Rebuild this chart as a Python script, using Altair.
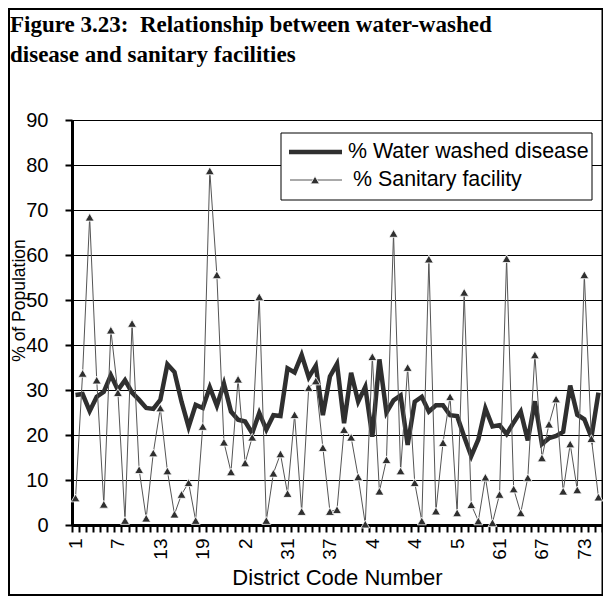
import altair as alt
import pandas as pd

# ---- data ----
district = list(range(1, 76))
water = [28.9, 29.1, 25.3, 28.5, 29.6, 33.3, 30.0, 32.2, 29.4, 27.8,
         26.0, 25.8, 27.8, 35.7, 34.0, 27.4, 21.8, 26.7, 26.0, 30.6,
         26.5, 31.4, 25.2, 23.4, 23.0, 20.4, 24.9, 21.2, 24.4, 24.2,
         34.8, 33.9, 37.8, 32.8, 35.4, 24.4, 33.0, 35.8, 22.6, 33.8,
         27.4, 30.7, 19.6, 36.8, 25.0, 27.7, 28.8, 17.8, 27.4, 28.5,
         25.2, 26.6, 26.6, 24.4, 24.2, 19.6, 15.3, 19.0, 25.9, 21.9,
         22.2, 20.2, 22.8, 25.2, 18.8, 27.5, 18.0, 19.3, 19.8, 20.7,
         31.0, 24.5, 23.5, 19.5, 29.4]
sanitary = [6.0, 33.7, 68.4, 32.2, 4.6, 43.3, 29.4, 1.0, 44.8, 12.3,
            1.5, 16.0, 26.0, 12.0, 2.4, 6.8, 9.4, 1.0, 21.9, 78.7,
            55.6, 18.4, 11.8, 32.4, 13.8, 19.5, 50.7, 1.0, 11.5, 15.8,
            7.0, 24.5, 3.0, 30.5, 32.0, 17.2, 3.0, 3.4, 21.2, 19.5,
            10.7, 0.2, 37.4, 7.5, 14.5, 64.8, 12.0, 35.0, 9.4, 0.9,
            59.1, 3.1, 18.3, 28.5, 2.7, 51.7, 4.5, 0.9, 10.6, 0.5,
            6.8, 59.2, 8.0, 2.7, 10.5, 37.8, 14.9, 22.4, 28.0, 7.5,
            18.0, 7.8, 55.6, 19.2, 6.2]
tick_pos = [1, 7, 13, 19, 25, 31, 37, 43, 49, 55, 61, 67, 73]
tick_text = ["1", "7", "13", "19", "2", "31", "37", "4", "4", "5", "61", "67", "73"]
series_names = ["% Water washed disease", "% Sanitary facility"]
title_lines = ["Figure 3.23:\u00a0 Relationship between water-washed",
               "disease and sanitary facilities"]
y_title = "% of Population"
x_title = "District Code Number"

df = pd.DataFrame({"district": district, "water": water, "sanitary": sanitary})

W, H = 530, 405
DARK = "#2f2f2f"

label_expr = "''"
for p, t in reversed(list(zip(tick_pos, tick_text))):
    label_expr = f"datum.value == {p} ? '{t}' : ({label_expr})"

boundaries = [k + 0.5 for k in range(0, 76)]
x_scale = alt.Scale(domain=[0.5, 75.5], nice=False, zero=False)

# axis that only carries the category tick marks (between categories)
x_tick_axis = alt.Axis(values=boundaries, labels=False, tickSize=7, tickWidth=2,
                       domainWidth=3, grid=False, title=None, orient="bottom")
# axis that only carries the labels and the title
x_label_axis = alt.Axis(values=tick_pos, labelExpr=label_expr, labelAngle=270,
                        labelAlign="right", labelBaseline="middle", labelFontSize=19,
                        labelPadding=13, labelOverlap=False, labelBound=False,
                        labelFlush=False, ticks=False, domain=False, grid=False,
                        title=x_title, titleFontSize=22, titleY=52,
                        titleBaseline="middle", orient="bottom")

y_axis = alt.Axis(values=list(range(0, 91, 10)), domainWidth=3, tickSize=7, tickWidth=2,
                  labelFontSize=20, labelPadding=17, grid=True, gridColor="#000",
                  gridWidth=1, title=y_title, titleFontSize=17.5, titleAngle=270,
                  titleX=-48, titleY=180, titleBaseline="alphabetic", titleAlign="center")
y_scale = alt.Scale(domain=[0, 90], nice=False)

base = alt.Chart(df)

water_line = base.mark_line(color=DARK, strokeWidth=4.5).encode(
    x=alt.X("district:Q", scale=x_scale, axis=x_tick_axis),
    y=alt.Y("water:Q", scale=y_scale, axis=y_axis))
san_line = base.mark_line(color="#555", strokeWidth=1).encode(
    x=alt.X("district:Q", scale=x_scale, axis=x_label_axis),
    y=alt.Y("sanitary:Q", scale=y_scale, axis=y_axis))
san_pts = base.mark_point(shape="triangle-up", filled=True, size=80, fill=DARK,
                          stroke="white", strokeWidth=0.8, opacity=1).encode(
    x=alt.X("district:Q", scale=x_scale, axis=None),
    y=alt.Y("sanitary:Q", scale=y_scale, axis=y_axis))

one = pd.DataFrame({"k": [0]})
frame = alt.Chart(one).mark_rect(filled=False, stroke="#000", strokeWidth=2).encode(
    x=alt.value(-63), x2=alt.value(530.5), y=alt.value(-111), y2=alt.value(475))

leg_box = alt.Chart(one).mark_rect(fill="white", stroke="#000", strokeWidth=1).encode(
    x=alt.value(209), x2=alt.value(520), y=alt.value(13), y2=alt.value(80))
leg_l1 = alt.Chart(one).mark_rule(color=DARK, strokeWidth=4.5).encode(
    x=alt.value(217), x2=alt.value(270), y=alt.value(32))
leg_l2 = alt.Chart(one).mark_rule(color="#555", strokeWidth=1).encode(
    x=alt.value(218), x2=alt.value(270), y=alt.value(60))
leg_pt = alt.Chart(one).mark_point(shape="triangle-up", filled=True, size=80, fill=DARK,
                                   stroke="white", strokeWidth=0.8, opacity=1).encode(
    x=alt.value(243), y=alt.value(60))
leg_t1 = alt.Chart(pd.DataFrame({"t": [series_names[0]]})).mark_text(
    align="left", baseline="middle", font="Liberation Sans", fontSize=21.4, color="#000").encode(
    x=alt.value(276), y=alt.value(32), text="t:N")
leg_t2 = alt.Chart(pd.DataFrame({"t": [series_names[1]]})).mark_text(
    align="left", baseline="middle", font="Liberation Sans", fontSize=21.4, color="#000").encode(
    x=alt.value(281), y=alt.value(60), text="t:N")

title = alt.Chart(pd.DataFrame({"t": ["\n".join(title_lines)]})).mark_text(
    align="left", baseline="alphabetic", font="Liberation Serif", fontWeight="bold",
    fontSize=23, lineHeight=30, lineBreak="\n", color="#000").encode(
    x=alt.value(-62), y=alt.value(-88), text="t:N")

chart = alt.layer(frame, water_line, san_line, san_pts, leg_box, leg_l1, leg_l2, leg_pt,
                  leg_t1, leg_t2, title).resolve_axis(x="independent").properties(
    width=W, height=H,
    autosize=alt.AutoSizeParams(type="none"),
    padding={"left": 64, "top": 112, "right": 1, "bottom": 71},
).configure_view(stroke="#000", strokeWidth=1).configure_axis(
    domainColor="#000", tickColor="#000", labelColor="#000", titleColor="#000",
    labelFont="Liberation Sans", titleFont="Liberation Sans", titleFontWeight="normal")

chart.save("out.html", embed_options={"renderer": "svg", "actions": False})
